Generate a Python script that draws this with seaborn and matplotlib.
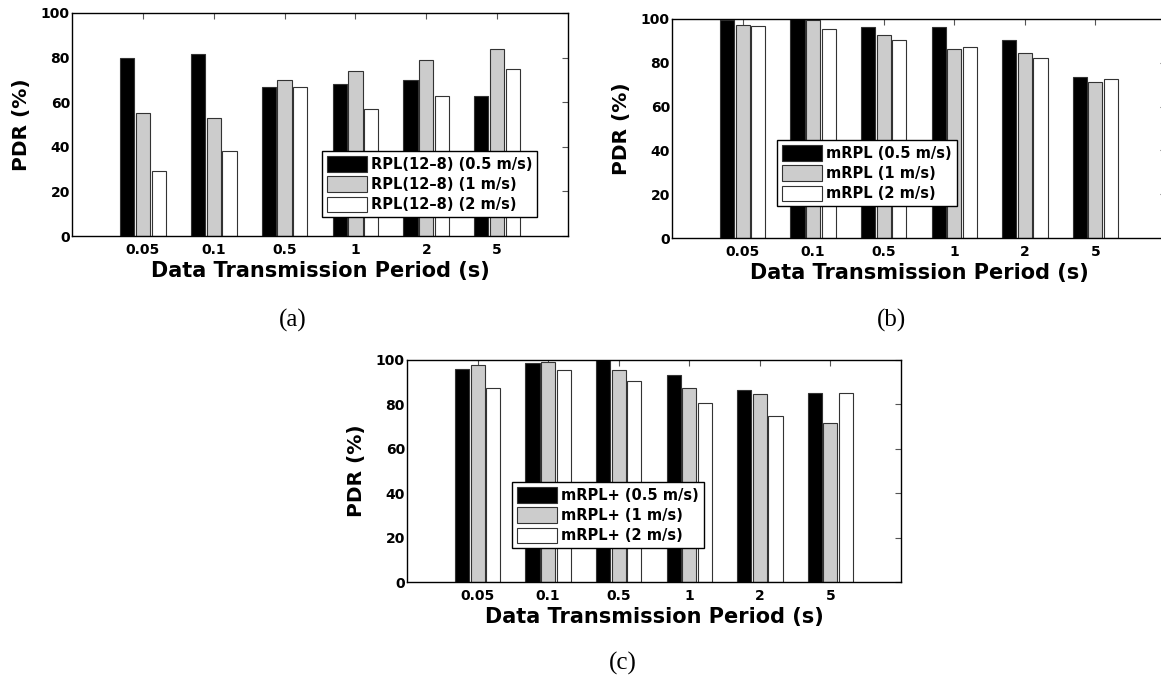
import matplotlib
matplotlib.use('Agg')
import matplotlib.pyplot as plt
import pandas as pd
import seaborn as sns

# x categories (data transmission period, s)
periods = ['0.05', '0.1', '0.5', '1', '2', '5']
speeds = ['0.5 m/s', '1 m/s', '2 m/s']

# (a) RPL(12-8)
rpl_05 = [80, 81.5, 67, 68, 70, 63]
rpl_1 = [55, 53, 70, 74, 79, 84]
rpl_2 = [29, 38, 67, 57, 63, 75]

# (b) mRPL
mrpl_05 = [99.4, 100, 96.5, 96.3, 90.4, 73.6]
mrpl_1 = [97.3, 99.7, 92.5, 86.1, 84.4, 71.3]
mrpl_2 = [96.8, 95.4, 90.4, 87.2, 82.1, 72.5]

# (c) mRPL+
mrplp_05 = [95.8, 98.8, 100, 93.4, 86.7, 85.0]
mrplp_1 = [97.6, 99.1, 95.4, 87.4, 84.7, 71.7]
mrplp_2 = [87.4, 95.5, 90.4, 80.8, 74.7, 85.0]

bar_colors = ['#000000', '#cccccc', '#ffffff']

W, H = 1161, 679


def to_frame(name, series):
    rows = []
    for speed, vals in zip(speeds, series):
        for p, v in zip(periods, vals):
            rows.append({'period': p, 'pdr': v, 'series': f'{name} ({speed})'})
    return pd.DataFrame(rows)


def draw_panel(fig, rect_px, name, series, legend_px, tag, tag_px):
    left, top, right, bottom = rect_px
    ax = fig.add_axes([left / W, 1 - bottom / H, (right - left) / W, (bottom - top) / H])
    df = to_frame(name, series)
    hue_order = [f'{name} ({s})' for s in speeds]
    sns.barplot(
        data=df, x='period', y='pdr', hue='series',
        order=periods, hue_order=hue_order,
        palette=dict(zip(hue_order, bar_colors)),
        width=0.667, gap=0.1, saturation=1, errorbar=None,
        edgecolor='#333333', linewidth=0.8, ax=ax,
    )
    ax.set_xlim(-1, 6)
    ax.set_ylim(0, 100)
    ax.set_yticks([0, 20, 40, 60, 80, 100])
    for s in ax.spines.values():
        s.set_visible(True)
        s.set_linewidth(1.0)
        s.set_color('black')
    ax.tick_params(axis='both', direction='in', top=True, right=True,
                   length=4, width=0.8, color='#555555', labelsize=10,
                   labelcolor='black')
    ax.tick_params(axis='x', pad=5)
    ax.tick_params(axis='y', pad=1.5)
    for lab in ax.get_xticklabels() + ax.get_yticklabels():
        lab.set_fontweight('bold')

    ax.set_xlabel('Data Transmission Period (s)', fontsize=15, fontweight='bold', color='black')
    ax.set_ylabel('PDR (%)', fontsize=14.5, fontweight='bold', color='black')
    ax.xaxis.set_label_coords(0.5, -25 / (bottom - top))
    ax.yaxis.set_label_coords(-41 / (right - left), 0.5)

    handles, labels = ax.get_legend_handles_labels()
    leg = ax.legend(handles, labels, loc='upper left',
                    bbox_to_anchor=(legend_px[0] / W, 1 - legend_px[1] / H),
                    bbox_transform=fig.transFigure, borderaxespad=0,
                    prop={'size': 10.5, 'weight': 'bold'},
                    handlelength=2.75, handleheight=1.25, handletextpad=0.25,
                    labelspacing=0.32, borderpad=0.35, fancybox=False,
                    framealpha=1, edgecolor='black')
    leg.get_frame().set_linewidth(1.0)
    for t in leg.get_texts():
        t.set_color('black')

    fig.text(tag_px[0] / W, 1 - tag_px[1] / H, tag, ha='center', va='center',
             fontsize=18, family='Liberation Serif', color='black')
    return ax


sns.set_style('white')
plt.rcParams['font.family'] = ['DejaVu Sans']
plt.rcParams['text.color'] = 'black'

fig = plt.figure(figsize=(W / 100, H / 100), dpi=100)

draw_panel(fig, (72, 13, 568, 236), 'RPL(12–8)', [rpl_05, rpl_1, rpl_2],
           (322, 151), '(a)', (293, 320))
draw_panel(fig, (672, 19, 1166, 238), 'mRPL', [mrpl_05, mrpl_1, mrpl_2],
           (777, 140), '(b)', (891, 320))
draw_panel(fig, (407, 360, 901, 582), 'mRPL+', [mrplp_05, mrplp_1, mrplp_2],
           (512, 482), '(c)', (623, 663))

fig.savefig('out.png', dpi=100)
